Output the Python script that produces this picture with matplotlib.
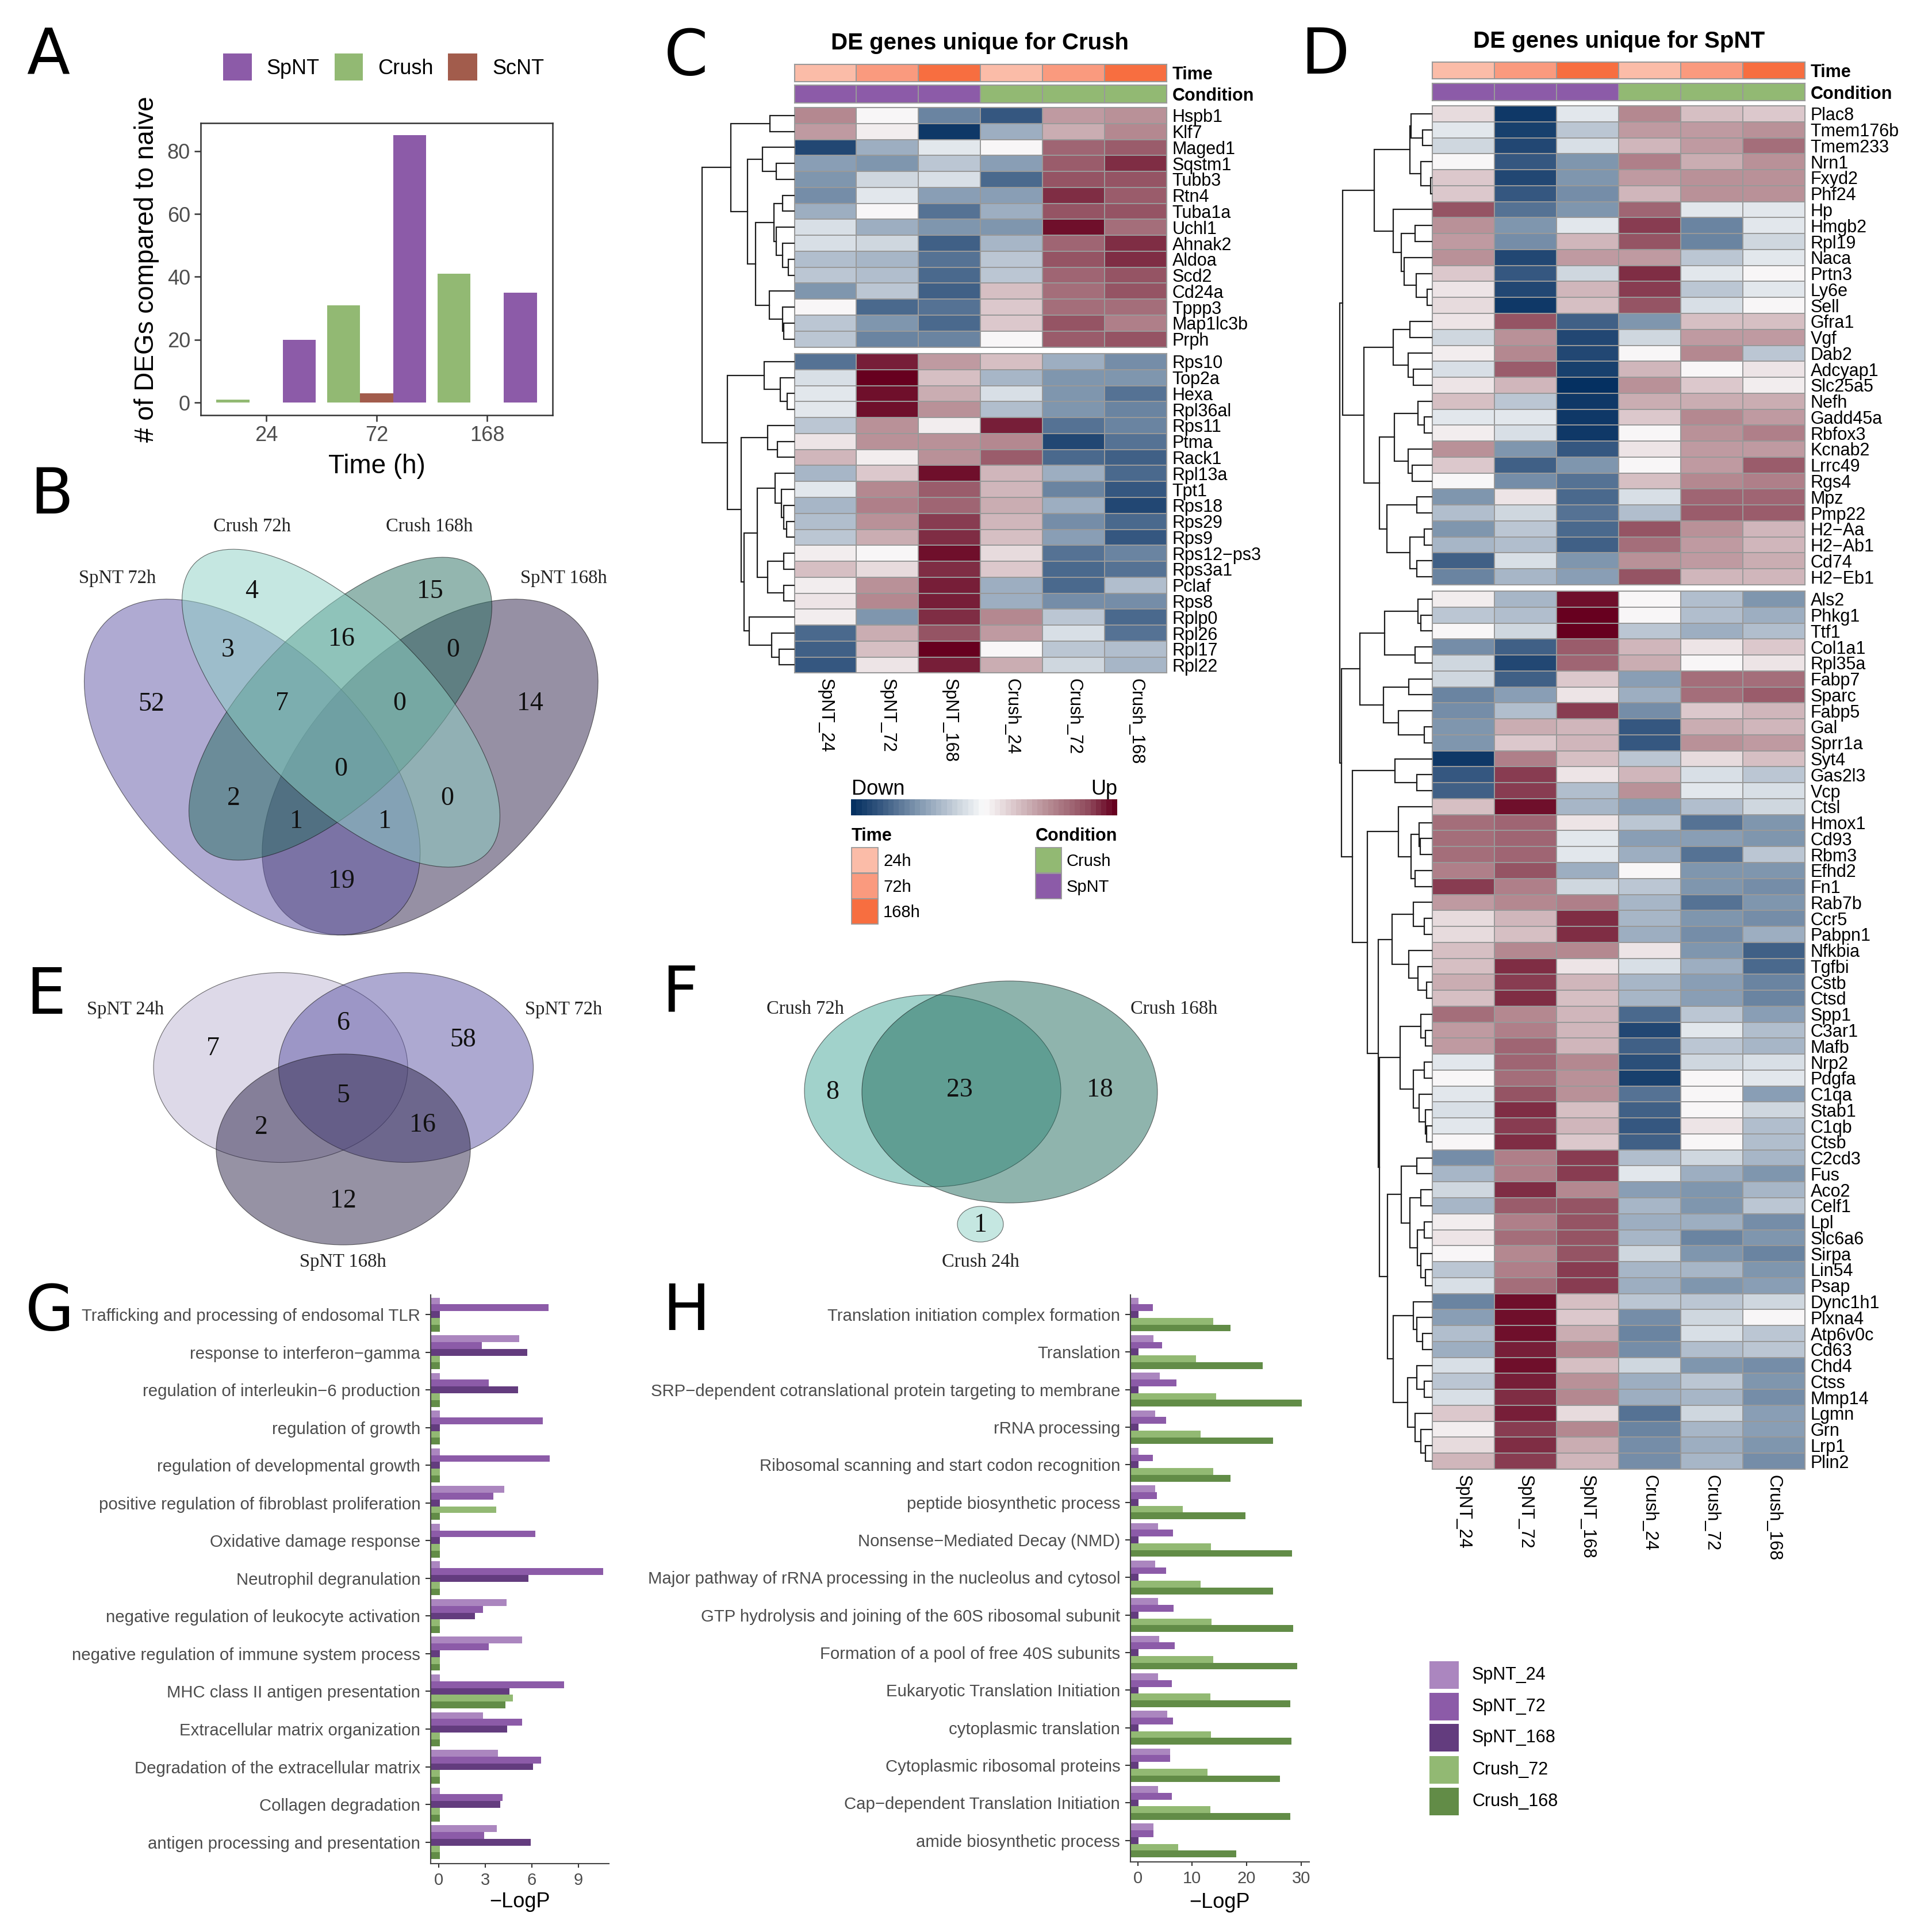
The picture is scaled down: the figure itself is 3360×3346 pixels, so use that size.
"""Multi-panel figure: DEG counts, Venn diagrams, heatmaps and enrichment bars."""
import numpy as np
import matplotlib; matplotlib.use("Agg")
import matplotlib.pyplot as plt
from matplotlib.colors import LinearSegmentedColormap, ListedColormap, to_rgba
from matplotlib.cm import ScalarMappable
from matplotlib.patches import Ellipse, Rectangle

plt.rcParams["font.family"] = ["Liberation Sans", "DejaVu Sans"]

W, H = 3360, 3346
SP, SP_L, SP_D = "#8c5ba8", "#ab86bf", "#633c7e"
CR, CR_D = "#92b973", "#628c47"
SC = "#a25c4c"
GREY = "#4d4d4d"

# panel A
TIMES = ["24", "72", "168"]
A_SPNT = [20, 85, 35]
A_CRUSH = [1, 31, 41]
A_SCNT = [0, 3, 0]

# heatmap C
C_GENES = ["Hspb1", "Klf7", "Maged1", "Sqstm1", "Tubb3", "Rtn4", "Tuba1a", "Uchl1", "Ahnak2", "Aldoa",
           "Scd2", "Cd24a", "Tppp3", "Map1lc3b", "Prph",
           "Rps10", "Top2a", "Hexa", "Rpl36al", "Rps11", "Ptma", "Rack1", "Rpl13a", "Tpt1", "Rps18",
           "Rps29", "Rps9", "Rps12\u2212ps3", "Rps3a1", "Pclaf", "Rps8", "Rplp0", "Rpl26", "Rpl17", "Rpl22"]
C_VALUES = [
    [5, 0, -6, -8, 4, 4.7], [4, 0.5, -9.5, -4, 3.5, 5], [-8.5, -4, -1, 0, 6.5, 7], [-4.5, -5, -2.5, -4.5, 7, 8.5],
    [-5, -2, -1.5, -7, 7.5, 7.5], [-5.5, -1, -4.5, -4.5, 8.5, 7], [-4, 0, -6.5, -4, 7.5, 7.5], [-1.5, -4, -5, -5, 9.5, 6],
    [-1.5, -2, -7.5, -3.5, 6.5, 8.5], [-3, -3.5, -6.5, -2.5, 7.5, 8.5], [-2.5, -3, -7, -2.5, 6.5, 7.5],
    [-5, -2.5, -7.5, 2.5, 6, 7.5], [0, -7, -6.5, 2, 6, 6], [-2.5, -5, -7, 2, 7.5, 5.5], [-2.5, -6, -6, 0, 7, 7.5],
    [-6.5, 9, 4, 2.5, -4, -5.5], [-1.5, 10, 2.5, -3.5, -5, -5], [-1, 9.5, 3.5, -1.5, -5, -6.5], [-1, 9.3, 4.5, -3, -5, -6],
    [-2.5, 4.5, 0.7, 9, -6.5, -6], [1, 4.5, 4.5, 5, -8.5, -6.5], [3, 0.5, 4.5, 7, -7, -7.5], [-3.5, 2, 9.3, 3, -4, -7],
    [-1, 5, 7, 3, -6, -8], [-3.5, 5.5, 6.5, 3.5, -4, -8.5], [-3, 4.5, 8, 3, -5.5, -7], [-2.5, 3.5, 8.5, 2.5, -4.5, -8],
    [0.7, 0, 9.5, 1.5, -6.5, -6], [2.5, 1.5, 8.5, 2, -7, -6.5], [0.7, 4.5, 9, -4, -7, -3], [1, 5, 9, -4, -5.5, -5.5],
    [0.7, -5, 8.5, 5, -2.5, -7], [-7, 3.5, 7.5, 4, -1.5, -6.5], [-7.5, 2.5, 10, 0, -2.5, -3], [-8, 1, 9, 3.5, -2, -3.5],
]
# nested merges: (height, upper, lower), 0 is a leaf
C_TREE = (161,
          (111, (43, 0, 0),
           (82, (56, 0, (31.5, 0, 0)),
            (68, (36, (21, 0, 0), (31.5, 0, (21, 0, (10.5, 0, 0)))),
             (44, 0, (21, 0, (19, 0, 0)))))),
          (117, (52.6, 0, (24.5, 0, (12.6, 0, 0))),
           (92.6, (47, 0, (29.5, 0, 0)),
            (87.7, (64.5, (33.7, 0, (22.4, 0, (19, 0, (14, 0, 0)))), (47, (19, 0, 0), (19, 0, 0))),
             (79, 0, (40, 0, (27, 0, 0)))))))

# heatmap D
D_GENES = ["Plac8", "Tmem176b", "Tmem233", "Nrn1", "Fxyd2", "Phf24", "Hp", "Hmgb2", "Rpl19", "Naca", "Prtn3", "Ly6e",
           "Sell", "Gfra1", "Vgf", "Dab2", "Adcyap1", "Slc25a5", "Nefh", "Gadd45a", "Rbfox3", "Kcnab2", "Lrrc49", "Rgs4",
           "Mpz", "Pmp22", "H2\u2212Aa", "H2\u2212Ab1", "Cd74", "H2\u2212Eb1",
           "Als2", "Phkg1", "Ttf1", "Col1a1", "Rpl35a", "Fabp7", "Sparc", "Fabp5", "Gal", "Sprr1a", "Syt4", "Gas2l3", "Vcp",
           "Ctsl", "Hmox1", "Cd93", "Rbm3", "Efhd2", "Fn1", "Rab7b", "Ccr5", "Pabpn1", "Nfkbia", "Tgfbi", "Cstb", "Ctsd",
           "Spp1", "C3ar1", "Mafb", "Nrp2", "Pdgfa", "C1qa", "Stab1", "C1qb", "Ctsb", "C2cd3", "Fus", "Aco2", "Celf1", "Lpl",
           "Slc6a6", "Sirpa", "Lin54", "Psap", "Dync1h1", "Plxna4", "Atp6v0c", "Cd63", "Chd4", "Ctss", "Mmp14", "Lgmn", "Grn",
           "Lrp1", "Plin2"]
D_VALUES = [
    [1.5, -9.5, -1, 5, 2.5, 2], [-1, -9, -2.5, 4, 4, 4.5], [-2, -8.7, -1.5, 3, 4, 6], [0, -8, -5, 5.5, 3.5, 4.5],
    [2, -8.5, -5, 4, 4.5, 4.5], [2, -8, -5.5, 3, 4.5, 4.5], [7.5, -6.5, -5, 6.5, -1, -1], [4.5, -5, -1, 8, -6, -1],
    [4, -5.5, 3, 7.5, -6, -2], [4.5, -8.7, 4, 4, -2.5, -1], [2, -8, -2, 8.5, -1, 0], [1, -8.5, 3, 8, -2.5, -1],
    [1.5, -9.3, 2.5, 7.5, -1.5, 0], [1, 7.5, -7.5, -5, 2.5, 2.5], [-2, 4.5, -8.7, -2, 4, 4], [0.7, 5, -8.7, 0, 5, -2.5],
    [-1.5, 7, -9.2, 3, 0, 1], [1, 3, -10, 4.5, 2, 0.5], [2.5, -2.5, -9.5, 3.5, 3.5, 3.5], [-1, -1, -9.5, 2, 5, 4],
    [0.5, -1.5, -9.3, 0.3, 4.5, 5.5], [4.5, -5, -8, 1, 4, 4], [2, -7.5, -5, 0, 4, 7], [0, -5.5, -6.5, 2.5, 5, 5.5],
    [-5, 1, -7, -1.5, 6.5, 6.5], [-3, -2, -6.5, -3, 7, 7], [-5, -2.5, -7, 7.5, 4.5, 3], [-3.5, -3, -7.5, 6, 4, 3],
    [-7.5, -1.5, -5, 4.5, 4, 3.5], [-6, -3.5, -4.5, 7.5, 3, 3],
    [0.5, -3.5, 9.5, 0, -3, -5], [-2.5, -3, 10, 0, -3, -4], [0, -2, 10, -2.5, -4, -3], [-5.5, -7.5, 7, 3, 1, 2],
    [-2, -8.7, 6.5, 3.5, 0, 1], [-2, -7.5, 2, -4.5, 6, 6], [-6, -4.5, 1, -4, 6, 7], [-5.5, -3, 8, -5.5, 2, 3],
    [-5, 3.5, 3, -8, 3.5, 3], [-5, 2, 3, -8, 4.5, 4], [-9.5, 5.5, 2.5, -2.5, 1.5, 2.5], [-8, 8, 1, 3, -1.5, -2.5],
    [-7.5, 8, -3, 4.5, -1, -1.5], [2.5, 9.5, -3.5, -4.5, -3, -2], [6, 6.5, 1, -2.5, -6.5, -5], [6, 6.5, -1, -4.5, -4.5, -5],
    [6, 6.5, -1, -4, -6.5, -2.5], [5.5, 7.5, -4, 0, -5, -5], [8, 5.5, -2, -2.5, -5, -5.5], [4, 5, 5.5, -3.5, -6.5, -5],
    [1.5, 3, 8.5, -3.5, -5, -5.5], [1.5, 2.5, 8.5, -4, -5.5, -4], [2.5, 5, 5, 1, -5, -7.5], [2.5, 8.5, 1, -1.5, -4, -7],
    [3.5, 8, 3, -3.5, -4.5, -6], [2.5, 8.5, 2.5, -3.5, -4.5, -6], [6, 5, 3, -7, -2.5, -4.5], [4, 5.5, 3, -8.7, -1, -3],
    [4, 6.5, 3, -7.5, -2.5, -3.5], [-1, 6.5, 5, -8.3, -2, -1.5], [0, 6, 4.5, -9.2, 0, -1], [-1, 7.5, 4.5, -6.5, 0, -4.5],
    [-1.5, 8.5, 2.5, -7.5, 0, -2], [-1, 8, 3, -8, 1, -3], [0, 8.5, 2, -7.5, 0, -3], [-5.5, 5.5, 8.3, -3, -2, -3.5],
    [-3.5, 5.5, 8.3, -1, -4, -5], [-2, 8.5, 5, -4.5, -5, -3.5], [-3.5, 7, 7.5, -3.5, -5, -2.5], [0.5, 5.5, 7.5, -4, -4, -5.5],
    [1, 6, 7.5, -3.5, -6, -5], [0, 5, 7.5, -2, -5, -6], [-2.5, 5.5, 8, -3.5, -3.5, -5], [-1.5, 6, 8, -4, -5, -4.5],
    [-6, 9.5, 2.5, -2.8, -2.5, -1.8], [-4.5, 9.2, 2, -5.5, -2, 0], [-3, 9.2, 3.5, -6, -1.5, -2.5], [-4, 8.8, 5, -5.5, -3, -2.5],
    [-1.5, 9.5, 2.5, -2, -5, -5.3], [-2.5, 9, 4.5, -4, -2.8, -5], [-1.5, 8.5, 5, -4, -3.5, -5.5], [2, 9, 1.5, -6.5, -2, -4.5],
    [0.5, 8, 5, -6, -3.5, -4.5], [1.5, 8.5, 3.5, -5.5, -4, -5], [3, 8.3, 3, -5.5, -3.5, -5.5],
]
D_TREE = (161,
          (156,
           (101,
            (39, (37, 0, (17, 0, 0)), (20, 0, (3.5, 0, 0))),
            (68, 0, (54, (30, 0, 0), (49, 0, (28, 0, (9, 0, 0)))))),
           (119,
            (68, (39, 0, 0), (42, 0, (33, 0, 0))),
            (92,
             (66, (25, 0, (14.5, 0, 0)), (42, 0, (35, 0, 0))),
             (79, (27, 0, 0), (39, (14.5, 0, 0), (27, 0, 0)))))),
          (158,
           (126,
            (83, (25, 0, (20, 0, 0)), (30, 0, 0)),
            (85, (41, 0, 0), (59, 0, (14.5, 0, 0)))),
           (139,
            (65, 0, (27, 0, 0)),
            (113,
             (59, 0, (37, (23, 0, (21, 0, 0)), (30, 0, 0))),
             (94,
              (70, (33, 0, (14.5, 0, 0)), (41, 0, (25, 0, (10.3, 0, 0)))),
              (92,
               (56, (20, 0, (12.4, 0, 0)), (33, (14.5, 0, 0), (23, 0, (12.4, 0, (10.3, 0, 0))))),
               (78,
                (54, (27, 0, 0), (39, (20, 0, 0), (26, (14.5, 0, 0), (20, 0, (12.4, 0, 0))))),
                (68, (33, 0, (27, 0, (17, 0, 0))), (43, (27, 0, (14.5, 0, 0)), (30, 0, (20, 0, (12.4, 0, 0))))))))))))

SAMPLES = ["SpNT_24", "SpNT_72", "SpNT_168", "Crush_24", "Crush_72", "Crush_168"]
TIME_IDX = [0, 1, 2, 0, 1, 2]
COND_IDX = [0, 0, 0, 1, 1, 1]
TIME_COLORS = ["#fbbca8", "#fa9a7e", "#f76e40"]
COND_COLORS = [SP, CR]

# panel G
G_TERMS = ["Trafficking and processing of endosomal TLR", "response to interferon\u2212gamma",
           "regulation of interleukin\u22126 production", "regulation of growth", "regulation of developmental growth",
           "positive regulation of fibroblast proliferation", "Oxidative damage response", "Neutrophil degranulation",
           "negative regulation of leukocyte activation", "negative regulation of immune system process",
           "MHC class II antigen presentation", "Extracellular matrix organization",
           "Degradation of the extracellular matrix", "Collagen degradation", "antigen processing and presentation"]
G_SPNT24 = [0.1, 5.2, 0.1, 0.1, 0.1, 4.23, 0.1, 0.1, 4.4, 5.4, 0.1, 2.85, 3.84, 0.1, 3.76]
G_SPNT72 = [7.08, 2.8, 3.25, 6.7, 7.16, 3.53, 6.25, 10.6, 2.85, 3.25, 8.07, 5.4, 6.6, 4.12, 2.93]
G_SPNT168 = [0.1, 5.7, 5.14, 0.1, 0.1, 0.1, 0.1, 5.8, 2.36, 0.1, 4.57, 4.43, 6.07, 3.97, 5.94]
G_CRUSH72 = [0.1, 0.1, 0.1, 0.1, 0.1, 3.7, 0.1, 0.1, 0.1, 0.1, 4.8, 0.1, 0.1, 0.1, 0.1]
G_CRUSH168 = [0.1, 0.1, 0.1, 0.1, 0.1, 0.1, 0.1, 0.1, 0.1, 0.1, 4.3, 0.1, 0.1, 0.1, 0.1]

# panel H
H_TERMS = ["Translation initiation complex formation", "Translation",
           "SRP\u2212dependent cotranslational protein targeting to membrane", "rRNA processing",
           "Ribosomal scanning and start codon recognition", "peptide biosynthetic process",
           "Nonsense\u2212Mediated Decay (NMD)", "Major pathway of rRNA processing in the nucleolus and cytosol",
           "GTP hydrolysis and joining of the 60S ribosomal subunit", "Formation of a pool of free 40S subunits",
           "Eukaryotic Translation Initiation", "cytoplasmic translation", "Cytoplasmic ribosomal proteins",
           "Cap\u2212dependent Translation Initiation", "amide biosynthetic process"]
H_SPNT24 = [0.1, 2.9, 4.05, 3.2, 0.1, 3.2, 3.7, 3.2, 3.7, 3.9, 3.7, 5.4, 6, 3.7, 2.9]
H_SPNT72 = [2.75, 4.5, 7.1, 5.2, 2.75, 3.55, 6.5, 5.2, 6.55, 6.8, 6.3, 6.5, 6, 6.3, 2.9]
H_SPNT168 = [0.1] * 15
H_CRUSH72 = [13.9, 10.75, 14.4, 11.6, 13.9, 8.25, 13.5, 11.6, 13.6, 13.9, 13.3, 13.5, 12.8, 13.3, 7.4]
H_CRUSH168 = [17, 22.9, 30.1, 24.8, 17, 19.8, 28.3, 24.8, 28.5, 29.3, 28, 28.2, 26.1, 28, 18.1]

# venn counts
B_SETS = ["SpNT 72h", "Crush 72h", "Crush 168h", "SpNT 168h"]
B_COUNTS = [4, 15, 3, 16, 0, 52, 7, 0, 14, 0, 2, 0, 1, 1, 19]
E_SETS = ["SpNT 24h", "SpNT 72h", "SpNT 168h"]
E_COUNTS = [7, 6, 58, 5, 2, 16, 12]
F_SETS = ["Crush 72h", "Crush 168h", "Crush 24h"]
F_COUNTS = [8, 23, 18, 1]

fig = plt.figure(figsize=(W / 100, H / 100), dpi=100)


def px_axes(x0, y0, x1, y1, **kw):
    return fig.add_axes([x0 / W, 1 - y1 / H, (x1 - x0) / W, (y1 - y0) / H], **kw)


# whole-figure layer in pixels for Venns, panel letters and legends
cv = px_axes(0, 0, W, H)
cv.set_xlim(0, W); cv.set_ylim(H, 0); cv.axis("off")

for s, x, y in [("A", 46, 128), ("B", 52, 893), ("C", 1155, 130), ("D", 2262, 128), ("E", 45, 1763),
                ("F", 1151, 1759), ("G", 44, 2313), ("H", 1152, 2313)]:
    cv.text(x, y, s, fontsize=79, family="DejaVu Sans", ha="left", va="baseline", color="black")


def venn(ellipses, sets, set_xy, counts, count_xy):
    for (cx, cy, rx, ry, ang, col) in ellipses:
        cv.add_patch(Ellipse((cx, cy), 2 * rx, 2 * ry, angle=ang, facecolor=to_rgba(col, 0.5),
                             edgecolor=to_rgba("#111111", 0.6), lw=0.8))
    for s, (x, y) in zip(sets, set_xy):
        cv.text(x, y + 2, s, family="Liberation Serif", fontsize=23.5, color="#222222", ha="center", va="center")
    for n, (x, y) in zip(counts, count_xy):
        cv.text(x, y + 2, str(n), family="Liberation Serif", fontsize=33, color="#111111", ha="center", va="center")


venn([(748, 1334, 358.6, 205, -45, "#2f234b"), (438.6, 1334, 358.6, 205, 45, "#6157a7"),
      (592, 1232.5, 341, 150, -45, "#296f61"), (593, 1231.6, 358, 157, 45, "#8dd1c5")],
     B_SETS, [(204.6, 1004), (438, 913.6), (746.5, 913.6), (980, 1004)], B_COUNTS,
     [(437.4, 1027), (748, 1027), (396, 1129), (594, 1110), (788, 1129), (263.6, 1223), (490, 1222), (695, 1222),
      (922, 1222), (592.6, 1335.5), (406, 1386.5), (778, 1386.5), (515, 1427), (669.6, 1427), (594, 1531)])
venn([(488, 1856.5, 221, 165, 0, "#bdb5d3"), (706, 1856.5, 221.5, 165, 0, "#5d55a5"), (597, 1999, 221, 166, 0, "#2f274b")],
     E_SETS, [(218, 1754), (980.6, 1754), (596, 2193)], E_COUNTS,
     [(370.4, 1822), (597, 1778), (805, 1807), (597, 1903.5), (454, 1959), (735, 1954.5), (597, 2087)])
venn([(1622, 1897, 223, 167, 0, "#45a799"), (1756, 1899, 257, 193, 0, "#216b5d"), (1705, 2129, 40, 31, 0, "#8dd1c5")],
     F_SETS, [(1400, 1753), (2042, 1753), (1705, 2193)], F_COUNTS,
     [(1448, 1898), (1669, 1894), (1913, 1894), (1705, 2129)])

# panel A
ax = px_axes(349, 214, 961, 722)
xs = np.arange(len(TIMES))
ax.bar(xs - 0.3, A_CRUSH, width=0.3, color=CR)
ax.bar(xs, A_SCNT, width=0.3, color=SC)
ax.bar(xs + 0.3, A_SPNT, width=0.3, color=SP)
ax.set_xlim(-0.593, 2.593); ax.set_ylim(-4, 88.9)
ax.set_xticks(xs, TIMES); ax.set_yticks([0, 20, 40, 60, 80])
ax.tick_params(labelsize=26, labelcolor=GREY, length=8, width=1.8, color="#333333", pad=5)
ax.set_xlabel("Time (h)", fontsize=33, labelpad=10)
ax.set_ylabel("# of DEGs compared to naive", fontsize=33, labelpad=10)
for sp in ax.spines.values():
    sp.set_linewidth(1.8); sp.set_color("#333333")
for x0, x1, x_t, col, s in [(388, 438, 463, SP, "SpNT"), (582, 631, 657, CR, "Crush"), (779, 830, 856, SC, "ScNT")]:
    cv.add_patch(Rectangle((x0, 93), x1 - x0, 47, color=col, lw=0))
    cv.text(x_t, 119, s, fontsize=26, ha="left", va="center")

# heatmaps
HEAT = LinearSegmentedColormap.from_list(
    "updown",
    [(0.0, "#053061"), (0.1, "#34567f"), (0.25, "#8298b0"), (0.5, "#fbfbfb"),
     (0.75, "#b58a92"), (0.9, "#8f4a5c"), (1.0, "#67001f")], N=50)
CELL_EDGE = "#999999"


def cells(box, data, cmap, vmin, vmax):
    a = px_axes(*box)
    a.pcolormesh(np.array(data, dtype=float), cmap=cmap, vmin=vmin, vmax=vmax, edgecolors=CELL_EDGE, linewidth=1.3)
    a.set_ylim(len(data), 0)
    a.set_xticks([]); a.set_yticks([])
    for sp in a.spines.values():
        sp.set_edgecolor(CELL_EDGE); sp.set_linewidth(1.5)
    return a


def draw_tree(a, node, rows):
    if node == 0:
        return 0, next(rows)
    h_up, y_up = draw_tree(a, node[1], rows)
    h_lo, y_lo = draw_tree(a, node[2], rows)
    a.plot([h_up, node[0], node[0], h_lo], [y_up, y_up, y_lo, y_lo], color="#1c1c1c", lw=1.6, solid_joinstyle="miter")
    return node[0], (y_up + y_lo) / 2


def heatmap(x0, x1, y_time, y_cond, y_top, y_mid, y_bottom, n_top, genes, values, tree, title, title_x, title_y):
    time_ax = cells((x0, y_time[0], x1, y_time[1]), [TIME_IDX], ListedColormap(TIME_COLORS), 0, 2)
    cond_ax = cells((x0, y_cond[0], x1, y_cond[1]), [COND_IDX], ListedColormap(COND_COLORS), 0, 1)
    for a, s in [(time_ax, "Time"), (cond_ax, "Condition")]:
        a.yaxis.tick_right()
        a.set_yticks([0.5], [s], fontsize=22, fontweight="bold")
        a.tick_params(length=0, pad=7)
    upper = cells((x0, y_top, x1, y_mid[0]), values[:n_top], HEAT, -10, 10)
    lower = cells((x0, y_mid[1], x1, y_bottom), values[n_top:], HEAT, -10, 10)
    for a, names in [(upper, genes[:n_top]), (lower, genes[n_top:])]:
        a.yaxis.tick_right()
        a.set_yticks(np.arange(len(names)) + 0.5, names, fontsize=22)
        a.tick_params(axis="y", length=0, pad=7)
    lower.set_xticks(np.arange(6) + 0.5, SAMPLES, rotation=270, fontsize=22)
    lower.tick_params(axis="x", length=0, pad=7)
    step = (y_mid[0] - y_top) / n_top
    ys = [y_top + (i + 0.5) * step + (y_mid[1] - y_mid[0] if i >= n_top else 0) for i in range(len(genes))]
    tree_ax = px_axes(x0 - 170, y_top, x0, y_bottom)
    tree_ax.set_xlim(170, 0); tree_ax.set_ylim(y_bottom, y_top); tree_ax.axis("off")
    draw_tree(tree_ax, tree, iter(ys))
    cv.text(title_x, title_y, title, fontsize=29, fontweight="bold", ha="center", va="center")


heatmap(1381.5, 2029, (112, 142), (148, 179), 187, (603.5, 615), 1170.5, 15, C_GENES, C_VALUES, C_TREE,
        "DE genes unique for Crush", 1704, 75)
heatmap(2491, 3139, (108, 137), (145, 175), 184, (1017, 1028), 2555, 30, D_GENES, D_VALUES, D_TREE,
        "DE genes unique for SpNT", 2816, 72)

# colour key and annotation legends under C
cax = px_axes(1480, 1390, 1943, 1418)
cb = fig.colorbar(ScalarMappable(plt.Normalize(-10, 10), HEAT), cax=cax, orientation="horizontal")
cb.set_ticks([]); cb.outline.set_visible(False)
cv.text(1481, 1372, "Down", fontsize=26, ha="left", va="center")
cv.text(1943, 1372, "Up", fontsize=26, ha="right", va="center")
cv.text(1481, 1454, "Time", fontsize=22, fontweight="bold", ha="left", va="center")
cv.text(1801, 1454, "Condition", fontsize=22, fontweight="bold", ha="left", va="center")
for y0, col, s in zip([1474, 1519, 1563], TIME_COLORS, ["24h", "72h", "168h"]):
    cv.add_patch(Rectangle((1481, y0), 46, 44, facecolor=col, edgecolor=CELL_EDGE, lw=1.3))
    cv.text(1536, y0 + 24, s, fontsize=21, ha="left", va="center")
for y0, col, s in zip([1474, 1519], [CR, SP], ["Crush", "SpNT"]):
    cv.add_patch(Rectangle((1801, y0), 45, 44, facecolor=col, edgecolor=CELL_EDGE, lw=1.3))
    cv.text(1855, y0 + 24, s, fontsize=21, ha="left", va="center")

# enrichment bars
BAR_COLORS = [SP_L, SP, SP_D, CR, CR_D]


def enrich(box, terms, series, xlim, xticks, xpad):
    a = px_axes(*box)
    ys = np.arange(len(terms))
    for j, (vals, col) in enumerate(zip(series, BAR_COLORS)):
        a.barh(ys + (j - 2) * 0.18, np.array(vals) - xlim[0], left=xlim[0], height=0.18, color=col)
    a.set_xlim(*xlim); a.set_ylim(len(terms) - 1 + 0.57, -0.52)
    a.set_yticks(ys, terms); a.set_xticks(xticks)
    a.tick_params(axis="y", labelsize=21.2, labelcolor=GREY, length=6.5, width=1.5, color="#333333", pad=6)
    a.tick_params(axis="x", labelsize=21, labelcolor=GREY, length=5, width=1.5, color="#333333", pad=6)
    a.set_xlabel("\u2212LogP", fontsize=26, labelpad=xpad)
    a.spines[["top", "right"]].set_visible(False)
    a.spines[["left", "bottom"]].set_linewidth(1.5)
    a.spines[["left", "bottom"]].set_color("#444444")


enrich((748.5, 2252, 1059, 3241), G_TERMS, [G_SPNT24, G_SPNT72, G_SPNT168, G_CRUSH72, G_CRUSH168],
       (-0.52, 10.97), [0, 3, 6, 9], 4)
enrich((1965.6, 2252, 2277, 3238), H_TERMS, [H_SPNT24, H_SPNT72, H_SPNT168, H_CRUSH72, H_CRUSH168],
       (-1.37, 31.5), [0, 10, 20, 30], 7)

LEG_NAMES = ["SpNT_24", "SpNT_72", "SpNT_168", "Crush_72", "Crush_168"]
for y0, col, s in zip([2889, 2944, 2998, 3054, 3109], BAR_COLORS, LEG_NAMES):
    cv.add_patch(Rectangle((2486, y0), 51, 48, color=col, lw=0))
    cv.text(2560, y0 + 24, s, fontsize=22, ha="left", va="center")

fig.savefig("out.png", dpi=100)
print("saved out.png")
